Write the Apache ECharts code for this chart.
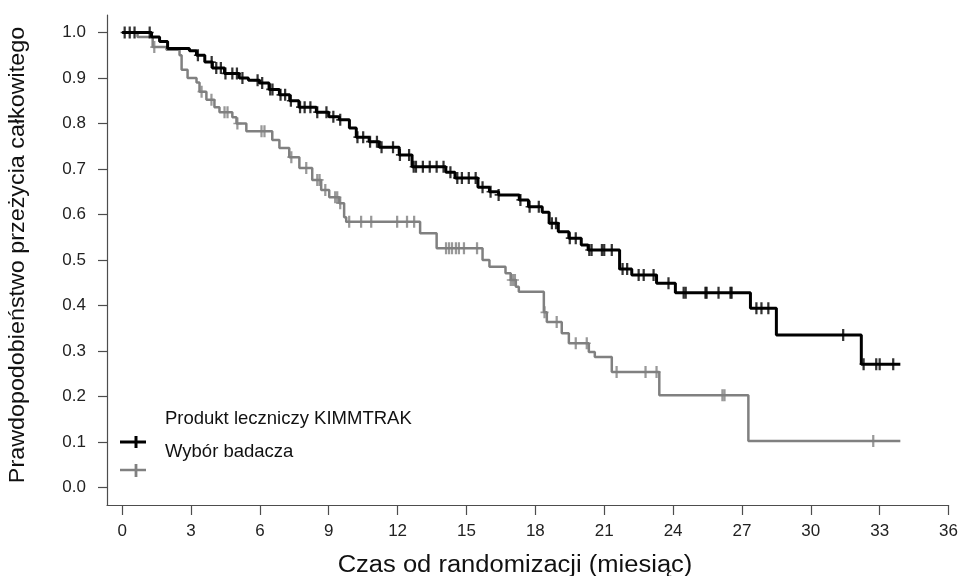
<!DOCTYPE html>
<html>
<head>
<meta charset="utf-8">
<script src="https://cdn.jsdelivr.net/npm/echarts@6/dist/echarts.min.js"></script>
<style>
html,body{margin:0;padding:0;background:#fff;}
#chart{width:961px;height:576px;}
</style>
</head>
<body>
<div id="chart"></div>
<script>
// ---- Data ----
const seriesNames = ['Produkt leczniczy KIMMTRAK', 'Wybór badacza'];
const xTickLabels = [0, 3, 6, 9, 12, 15, 18, 21, 24, 27, 30, 33, 36];
const yTickLabels = [0.0, 0.1, 0.2, 0.3, 0.4, 0.5, 0.6, 0.7, 0.8, 0.9, 1.0];

// KIMMTRAK Kaplan-Meier steps: time (months) and survival after that time
const kimmtrakTimes = [0, 1.28, 1.63, 1.98, 2.93, 3.24, 3.6, 3.93, 4.46, 5.1, 5.5, 5.98, 6.4, 6.85, 7.3, 7.7, 8.46, 9.0, 9.46, 9.9, 10.2, 10.76, 11.2, 12.07, 12.63, 14.1, 14.5, 15.5, 16.0, 16.4, 17.3, 17.7, 18.3, 18.6, 19.0, 19.46, 20.0, 20.3, 21.67, 22.2, 23.28, 24.1, 27.37, 28.5, 32.2, 33.9];
const kimmtrakSurv  = [1.0, 0.99, 0.98, 0.965, 0.96, 0.95, 0.935, 0.922, 0.91, 0.90, 0.895, 0.889, 0.875, 0.863, 0.85, 0.836, 0.825, 0.815, 0.808, 0.79, 0.77, 0.76, 0.748, 0.731, 0.705, 0.693, 0.68, 0.66, 0.65, 0.643, 0.632, 0.617, 0.605, 0.581, 0.562, 0.548, 0.533, 0.522, 0.48, 0.467, 0.449, 0.428, 0.394, 0.335, 0.271, 0.271];
const kimmtrakCensor = [0.11, 0.33, 0.54, 1.2, 3.3, 3.9, 4.1, 4.3, 4.5, 4.8, 5.0, 5.24, 5.9, 6.1, 6.45, 6.55, 6.9, 7.1, 7.35, 7.75, 7.95, 8.2, 8.5, 8.9, 9.2, 9.5, 10.25, 10.5, 10.8, 11.1, 11.3, 11.8, 12.1, 12.5, 12.7, 12.8, 13.1, 13.4, 13.7, 14.0, 14.3, 14.6, 14.8, 15.1, 15.4, 15.7, 16.05, 16.4, 17.35, 17.75, 18.15, 18.72, 18.9, 19.5, 19.76, 20.35, 20.45, 20.9, 21.0, 21.33, 21.8, 22.0, 22.5, 22.72, 23.15, 23.8, 24.46, 24.55, 25.41, 25.46, 25.98, 26.5, 26.55, 27.63, 27.85, 28.15, 31.41, 32.3, 32.85, 33.0, 33.59];

// Investigator's choice
const badaczTimes = [0, 0.67, 1.33, 1.93, 2.5, 2.59, 2.85, 3.24, 3.37, 3.67, 4.02, 4.24, 4.8, 4.98, 5.41, 6.54, 6.85, 7.28, 7.72, 8.28, 8.67, 9.02, 9.46, 9.67, 9.76, 12.98, 13.7, 15.7, 16.0, 16.7, 16.93, 17.15, 17.28, 18.37, 18.5, 19.15, 19.46, 20.33, 20.59, 21.33, 23.4, 27.28, 33.9];
const badaczSurv  = [1.0, 0.99, 0.968, 0.962, 0.95, 0.918, 0.9, 0.89, 0.87, 0.852, 0.836, 0.825, 0.814, 0.80, 0.783, 0.764, 0.746, 0.726, 0.702, 0.676, 0.654, 0.638, 0.625, 0.594, 0.584, 0.559, 0.526, 0.50, 0.485, 0.471, 0.456, 0.441, 0.43, 0.385, 0.364, 0.339, 0.317, 0.298, 0.287, 0.254, 0.203, 0.102, 0.102];
const badaczCensor = [1.4, 3.46, 3.89, 4.46, 4.59, 5.02, 6.07, 6.2, 7.37, 8.02, 8.5, 8.6, 8.85, 9.28, 9.37, 9.5, 9.89, 10.41, 10.85, 11.98, 12.41, 12.72, 14.11, 14.24, 14.37, 14.54, 14.67, 14.89, 15.46, 16.93, 17.02, 17.11, 18.4, 18.93, 19.76, 20.24, 21.54, 22.8, 23.28, 26.15, 26.24, 32.72];

// ---- Build ----
function stepData(times, surv) { return times.map((t, i) => [t, surv[i]]); }
function survAt(times, surv, t) {
  let s = surv[0];
  for (let i = 0; i < times.length; i++) { if (times[i] <= t) s = surv[i]; else break; }
  return s;
}
function censorData(times, surv, cens) { return cens.map(t => [t, survAt(times, surv, t)]); }

const PLUS = 'path://M3.6,0 H6.4 V4.3 H10 V5.7 H6.4 V10 H3.6 V5.7 H0 V4.3 H3.6 Z';
const BLACK = '#000000';
const GRAY = '#808080';
const AXIS = '#4d4d4d';
const FONT = '"Liberation Sans", Arial, sans-serif';

const chart = echarts.init(document.getElementById('chart'), null, {renderer: 'canvas'});

const option = {
  backgroundColor: '#ffffff',
  animation: false,
  grid: {left: 107, right: 11, top: 15, bottom: 71, containLabel: false},
  xAxis: {
    type: 'value', min: -0.66, max: 36,
    axisLine: {show: true, onZero: false, lineStyle: {color: AXIS, width: 1.2}},
    axisTick: {show: true, length: 10, lineStyle: {color: AXIS, width: 1.2}, customValues: xTickLabels},
    axisLabel: {show: true, margin: 18, fontSize: 17, color: '#222', fontFamily: FONT, customValues: xTickLabels,
      formatter: v => String(v)},
    splitLine: {show: false}
  },
  yAxis: {
    type: 'value', min: -0.0385, max: 1.0385,
    axisLine: {show: true, onZero: false, lineStyle: {color: AXIS, width: 1.2}},
    axisTick: {show: true, length: 9, lineStyle: {color: AXIS, width: 1.2}, customValues: yTickLabels},
    axisLabel: {show: true, margin: 21, fontSize: 17, color: '#222', fontFamily: FONT, customValues: yTickLabels,
      formatter: v => Number(v).toFixed(1)},
    splitLine: {show: false}
  },
  series: [
    {name: seriesNames[1], type: 'line', step: 'end', data: stepData(badaczTimes, badaczSurv),
      showSymbol: false, lineStyle: {color: GRAY, width: 2.5}, z: 2},
    {name: seriesNames[1] + ' cenzura', type: 'scatter', data: censorData(badaczTimes, badaczSurv, badaczCensor),
      symbol: PLUS, symbolSize: [8, 12], symbolKeepAspect: false, itemStyle: {color: GRAY}, z: 3},
    {name: seriesNames[0], type: 'line', step: 'end', data: stepData(kimmtrakTimes, kimmtrakSurv),
      showSymbol: false, lineStyle: {color: BLACK, width: 3}, z: 4},
    {name: seriesNames[0] + ' cenzura', type: 'scatter', data: censorData(kimmtrakTimes, kimmtrakSurv, kimmtrakCensor),
      symbol: PLUS, symbolSize: [8, 12], symbolKeepAspect: false, itemStyle: {color: BLACK}, z: 5}
  ],
  graphic: [
    // y axis title
    {type: 'text', x: 18, y: 255, rotation: Math.PI / 2, scaleX: 1.06,
      style: {text: 'Prawdopodobieństwo przeżycia całkowitego', font: '22px ' + FONT, fill: '#111',
        textAlign: 'center', textVerticalAlign: 'middle'}},
    // x axis title
    {type: 'text', x: 515, y: 566, scaleX: 1.11,
      style: {text: 'Czas od randomizacji (miesiąc)', font: '23px ' + FONT, fill: '#111',
        textAlign: 'center', textVerticalAlign: 'middle'}},
    // legend
    {type: 'line', shape: {x1: 120, y1: 442, x2: 146, y2: 442}, style: {stroke: BLACK, lineWidth: 3}},
    {type: 'line', shape: {x1: 136, y1: 436, x2: 136, y2: 448}, style: {stroke: BLACK, lineWidth: 3}},
    {type: 'line', shape: {x1: 120, y1: 470, x2: 146, y2: 470}, style: {stroke: GRAY, lineWidth: 2.5}},
    {type: 'line', shape: {x1: 136, y1: 464, x2: 136, y2: 477}, style: {stroke: GRAY, lineWidth: 2.8}},
    {type: 'text', x: 165, y: 419,
      style: {text: seriesNames[0], font: '18.5px ' + FONT, fill: '#111', textAlign: 'left', textVerticalAlign: 'middle'}},
    {type: 'text', x: 165, y: 452,
      style: {text: seriesNames[1], font: '18.5px ' + FONT, fill: '#111', textAlign: 'left', textVerticalAlign: 'middle'}}
  ]
};
chart.setOption(option);
</script>
</body>
</html>
